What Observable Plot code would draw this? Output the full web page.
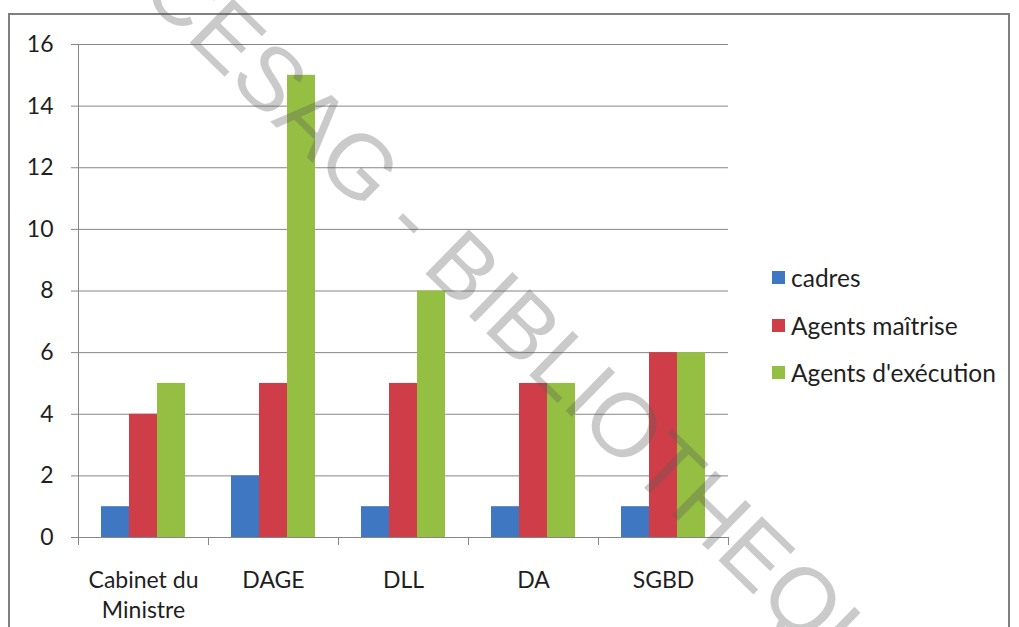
<!DOCTYPE html>
<html>
<head>
<meta charset="utf-8">
<script src="https://cdn.jsdelivr.net/npm/d3@7"></script>
<script src="https://cdn.jsdelivr.net/npm/@observablehq/plot@0.6"></script>
<style>
  body { margin: 0; background: #fff; }
  #wrap { position: relative; width: 1019px; height: 627px; overflow: hidden; font-family: Lato, sans-serif; }
  #border { position: absolute; left: 8px; top: 13px; width: 1002px; height: 650px; border: 2px solid #7f7f7f; box-sizing: border-box; }
  #chart { position: absolute; left: 0; top: 0; }
  #legend { position: absolute; left: 772px; top: 254px; font-size: 24.5px; color: #1f1f1f; }
  #legend .item { display: flex; align-items: center; height: 47.5px; white-space: nowrap; }
  #legend .sw { width: 13px; height: 13px; margin-right: 6px; }
  #wm { position: absolute; left: 0; top: 0; pointer-events: none; }
</style>
</head>
<body>
<div id="wrap">
  <div id="border"></div>
  <div id="chart"></div>
  <div id="legend"></div>
  <svg id="wm" width="1019" height="627">
    <text x="138" y="-8" transform="rotate(44.4 138 -8)" font-family="Liberation Sans, Arial, sans-serif" font-size="90" fill="rgb(90,90,90)" fill-opacity="0.32">CESAG - BIBLIOTHEQUE</text>
  </svg>
</div>
<script>
// Staff by department and category
const categories = ["Cabinet du Ministre", "DAGE", "DLL", "DA", "SGBD"];
const categoryLabels = ["Cabinet du\nMinistre", "DAGE", "DLL", "DA", "SGBD"];
const series = ["cadres", "Agents maîtrise", "Agents d'exécution"];
const cadres = [1, 2, 1, 1, 1];
const agentsMaitrise = [4, 5, 5, 5, 6];
const agentsExecution = [5, 15, 8, 5, 6];
const yTicks = [0, 2, 4, 6, 8, 10, 12, 14, 16];
const colors = ["#3f77c2", "#cf3e48", "#95bf42"];

const seriesValues = [cadres, agentsMaitrise, agentsExecution];
const rows = categories.flatMap((category, i) =>
  series.map((s, j) => ({ category, series: s, value: seriesValues[j][i] }))
);

const width = 1019, height = 627;
const marginTop = 44, marginBottom = 90, marginLeft = 77, marginRight = 291;
const innerHeight = height - marginTop - marginBottom;
const lineColor = "#868686";

const chart = Plot.plot({
  width, height, marginTop, marginBottom, marginLeft, marginRight,
  style: { fontFamily: "Lato, sans-serif", fontSize: "23px", color: "#1f1f1f", background: "transparent" },
  fx: { domain: categories, paddingInner: 0, paddingOuter: 0, label: null },
  x: { domain: series, paddingInner: 0, paddingOuter: 0.77, axis: null },
  y: { domain: [0, 16], label: null },
  color: { domain: series, range: colors },
  marks: [
    Plot.gridY(yTicks, { stroke: lineColor, strokeOpacity: 1 }),
    Plot.barY(rows, { fx: "category", x: "series", y: "value", fill: "series" }),
    Plot.ruleY([0], { stroke: lineColor }),
    Plot.frame({ anchor: "left", facetAnchor: "left", stroke: lineColor }),
    // category boundary ticks below the baseline
    Plot.frame({ anchor: "left", stroke: lineColor, insetTop: innerHeight, insetBottom: -7 }),
    Plot.frame({ anchor: "right", facetAnchor: "right", stroke: lineColor, insetTop: innerHeight, insetBottom: -7 }),
    Plot.axisY(yTicks, { tickSize: 7, tickPadding: 18, stroke: lineColor, label: null }),
    Plot.axisFx({ anchor: "bottom", tickSize: 0, tickPadding: 29, lineHeight: 1.3, label: null,
      tickFormat: (d) => categoryLabels[categories.indexOf(d)] })
  ]
});
document.getElementById("chart").append(chart);

const legend = d3.select("#legend");
series.forEach((s, i) => {
  const item = legend.append("div").attr("class", "item");
  item.append("div").attr("class", "sw").style("background", colors[i]);
  item.append("span").text(s);
});
</script>
</body>
</html>
